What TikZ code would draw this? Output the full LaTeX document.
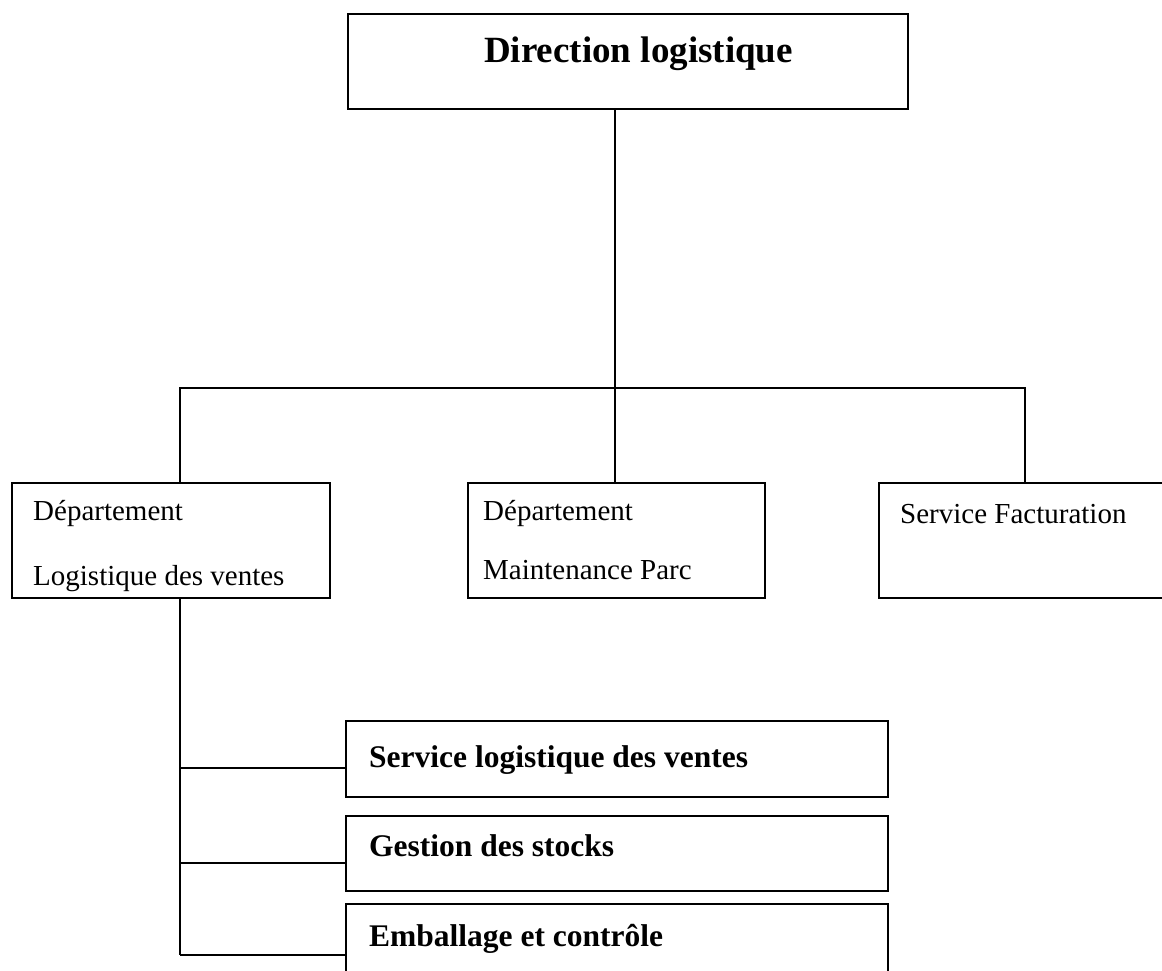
\documentclass[tikz,border=0pt]{standalone}
\usepackage{fontspec}
\setmainfont{Liberation Serif}

\begin{document}
\begin{tikzpicture}[x=1pt,y=1pt,
  box/.style={draw,line width=1.5pt,inner sep=0pt},
  link/.style={line width=1.2pt},
  txt/.style={anchor=base west,inner sep=0pt,font=\fontsize{29}{31}\selectfont},
  btxt/.style={anchor=base west,inner sep=0pt,font=\fontsize{31.5}{33}\selectfont\bfseries}]
\useasboundingbox (0,0) rectangle (1162,-971);
\clip (0,0) rectangle (1162,-971);

% boxes
\node[box,minimum width=560,minimum height=95] (dir) at (628,-61.5) {};
\node[box,minimum width=318,minimum height=115] (dvl) at (171,-540.5) {};
\node[box,minimum width=297,minimum height=115] (dmp) at (616.5,-540.5) {};
\node[box,minimum width=300,minimum height=115] (sfa) at (1029,-540.5) {};
\node[box,minimum width=542,minimum height=76] (slv) at (617,-759) {};
\node[box,minimum width=542,minimum height=75] (gds) at (617,-853.5) {};
\node[box,minimum width=542,minimum height=90] (eec) at (617,-949) {};

% texts
\node[btxt,font=\fontsize{37}{39}\selectfont\bfseries] (tdir) at (484,-63) {Direction logistique};
\node[txt] (tdvl1) at (33,-520) {Département};
\node[txt] (tdvl2) at (33,-585) {Logistique des ventes};
\node[txt] (tdmp1) at (483,-520) {Département};
\node[txt] (tdmp2) at (483,-579) {Maintenance Parc};
\node[txt] (tsfa) at (900,-523) {Service Facturation};
\node[btxt] (tslv) at (369,-767) {Service logistique des ventes};
\node[btxt] (tgds) at (369,-856) {Gestion des stocks};
\node[btxt] (teec) at (369,-946) {Emballage et contrôle};

% links
\coordinate (jl) at (180,-388);
\coordinate (jm) at (615,-388);
\coordinate (jr) at (1025,-388);
\coordinate (k1) at (180,-768);
\coordinate (k2) at (180,-863);
\coordinate (k3) at (180,-955);

\draw[link] (dir.south -| jm) -- (jm) -- (jm |- dmp.north);
\draw[link] (jl |- dvl.north) -- (jl) -- (jr) -- (jr |- sfa.north);
\draw[link] (dvl.south -| k1) -- (k3);
\draw[link] (k1) -- (k1 -| slv.west);
\draw[link] (k2) -- (k2 -| gds.west);
\draw[link] (k3) -- (k3 -| eec.west);
\end{tikzpicture}
\end{document}
